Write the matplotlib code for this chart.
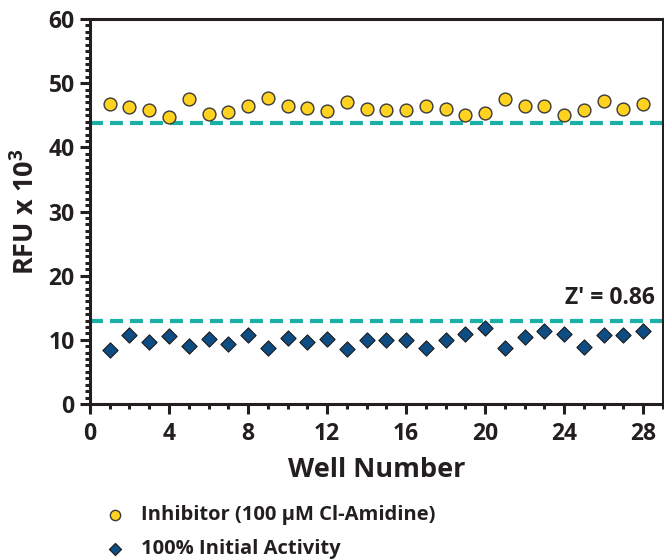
import numpy as np
import matplotlib.pyplot as plt
from matplotlib.ticker import MultipleLocator

plt.rcParams['font.family'] = ['Open Sans', 'DejaVu Sans']
plt.rcParams['font.weight'] = 'bold'
plt.rcParams['mathtext.fontset'] = 'custom'
plt.rcParams['mathtext.rm'] = 'Open Sans:bold'
plt.rcParams['mathtext.bf'] = 'Open Sans:bold'

# ------------------------------------------------------------
# Data (RFU x 10^3 per well)
# ------------------------------------------------------------
wells = np.arange(1, 29)

inhibitor = [46.8, 46.3, 45.8, 44.7, 47.6, 45.2, 45.5, 46.4, 47.7, 46.4,
             46.2, 45.6, 47.0, 46.0, 45.9, 45.9, 46.4, 46.0, 45.1, 45.4,
             47.5, 46.4, 46.4, 45.0, 45.9, 47.2, 46.0, 46.8]

initial_activity = [8.4, 10.8, 9.7, 10.6, 9.0, 10.1, 9.3, 10.7, 8.7, 10.3,
                    9.6, 10.2, 8.5, 9.9, 9.9, 9.9, 8.7, 10.0, 10.9, 11.8,
                    8.7, 10.4, 11.4, 10.9, 8.9, 10.8, 10.8, 11.3]

upper_line = 43.8
lower_line = 12.9
z_prime = 0.86

teal = '#1BB0A6'
yellow = '#FFD21F'
navy = '#0E4C84'
dark = '#231F20'

fig = plt.figure(figsize=(6.64, 5.6), dpi=100)
ax = fig.add_axes([0.1355, 0.2786, 0.863, 0.6874])

ax.axhline(upper_line, color=teal, lw=3, dashes=(3.1, 1.7), zorder=1)
ax.axhline(lower_line, color=teal, lw=3, dashes=(3.1, 1.7), zorder=1)

ax.scatter(wells, inhibitor, s=85, marker='o', facecolor=yellow,
           edgecolor='#3a3a3a', linewidth=1.0, zorder=3,
           label='Inhibitor (100 µM Cl-Amidine)')
ax.scatter(wells, initial_activity, s=60, marker='D', facecolor=navy,
           edgecolor='#1a1a1a', linewidth=0.8, zorder=3,
           label='100% Initial Activity')

ax.text(28.6, 15.6, f'Z\u2032 = {z_prime:.2f}', ha='right', va='baseline',
        fontsize=16.5, fontweight='bold', color=dark)

ax.set_xlim(0, 29)
ax.set_ylim(0, 60)
ax.xaxis.set_major_locator(MultipleLocator(4))
ax.xaxis.set_minor_locator(MultipleLocator(1))
ax.yaxis.set_major_locator(MultipleLocator(10))
ax.yaxis.set_minor_locator(MultipleLocator(1))

for side in ['left', 'bottom', 'top', 'right']:
    ax.spines[side].set_linewidth(2.2)
    ax.spines[side].set_color(dark)

ax.tick_params(which='major', direction='out', length=7, width=2.2,
               color=dark, labelsize=16.5, labelcolor=dark, pad=4)
ax.tick_params(axis='x', which='major', pad=6)
ax.tick_params(which='minor', direction='out', length=3.5, width=2.2, color=dark)
ax.tick_params(top=False, right=False, which='both')

ax.set_xlabel('Well Number', fontsize=19.5, fontweight='bold', color=dark, labelpad=8)
ax.set_ylabel(r'RFU x 10$^{3}$', fontsize=19.5, fontweight='bold', color=dark, labelpad=6)

leg = fig.legend(loc='upper left', bbox_to_anchor=(0.115, 0.13), frameon=False,
                 handletextpad=0.3, labelspacing=0.68, markerscale=0.8,
                 prop={'weight': 'bold', 'size': 14.5})
for t in leg.get_texts():
    t.set_color(dark)

fig.savefig('out.png', dpi=100)
